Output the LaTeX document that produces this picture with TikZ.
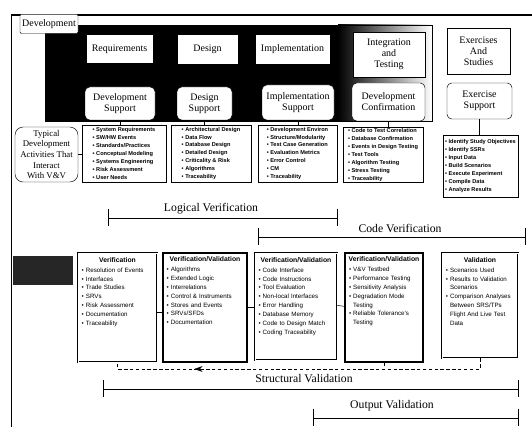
\documentclass[tikz,border=0pt]{standalone}
\usepackage{fontspec}
\setmainfont{Liberation Serif}
\setsansfont{Liberation Sans}
\usetikzlibrary{arrows.meta,decorations.markings}
\newcommand{\bracketline}[3]{\draw[line width=0.6pt] (#1,#3)--(#2,#3);
  \draw (#1,#3-9)--(#1,#3+8); \draw (#2,#3-9)--(#2,#3+8);}
\newcommand{\itm}{\textbullet\ }
\newcommand{\ttl}[1]{\makebox[\linewidth]{\fontsize{5.8}{8}\selectfont\textbf{#1}}\\[1pt]}
\tikzset{
  sz/.style 2 args={minimum width=#1*0.03cm, minimum height=#2*0.03cm},
  phase/.style={fill=white, draw=white, inner sep=1pt, align=center,
    font=\fontsize{8.5}{9.5}\selectfont},
  support/.style={phase, draw=black, rounded corners=4pt},
  listbox/.style={draw, align=left, inner sep=1pt,
    font=\sffamily\bfseries\fontsize{4.8}{6.8}\selectfont},
  vvbox/.style={draw, inner sep=0pt},
  vvtext/.style={align=left, inner sep=1.5pt, anchor=north,
    font=\sffamily\fontsize{5.3}{7.6}\selectfont},
  brlabel/.style={font=\fontsize{10}{12}\selectfont}
}
\begin{document}
\begin{tikzpicture}[x=0.03cm, y=-0.03cm]
\useasboundingbox (0,0) rectangle (532,427);
% frame
\draw[line width=0.6pt] (11,427)--(11,15);
\draw[line width=1.4pt] (11,15)--(532,15);
% development area
\fill[black] (45,25) rectangle (338,121);
\shade[left color=black, middle color=black!40, right color=white] (338,25) rectangle (432,121);
\draw (45,25) rectangle (432,121);
\node[draw, fill=white, rounded corners=1pt, sz={58}{19}, inner sep=1pt,
  font=\fontsize{8.5}{9.5}\selectfont] (dev) at (49,24) {Development};

% phases
\node[phase, sz={65}{27}] (req) at (119.5,49) {Requirements};
\node[phase, sz={59}{28}] (des) at (207.5,49) {Design};
\node[phase, sz={73}{28}] (imp) at (292.5,49) {Implementation};
\node[phase, draw=black, sz={72}{45}] (integ) at (389,54.5) {Integration\\and\\Testing};
\node[phase, draw=black, sz={63}{46}] (exer) at (478.5,51) {Exercises\\And\\Studies};

% support
\node[support, sz={70}{33}] (devsup) at (120,103.5) {Development\\Support};
\node[support, sz={55}{33}] (dessup) at (204.5,103.5) {Design\\Support};
\node[support, sz={72}{35}] (impsup) at (298,102.5) {Implementation\\Support};
\node[support, sz={73}{38}] (devconf) at (388.5,102) {Development\\Confirmation};
\node[support, sz={65}{36}] (exsup) at (479.5,101) {Exercise\\Support};

% activity lists
\node[draw, rounded corners=7pt, align=center, sz={63}{55}, inner sep=1pt,
  font=\fontsize{7.5}{9}\selectfont] (typ) at (46.5,154.5)
  {Typical\\Development\\Activities That\\Interact\\With V\&V};
\node[listbox, sz={84}{57}] (lreq) at (124,153.5)
  {\itm System Requirements\\\itm SW/HW Events\\\itm Standards/Practices\\
   \itm Conceptual Modeling\\\itm Systems Engineering\\\itm Risk Assessment\\\itm User Needs};
\node[listbox, sz={80}{57}] (ldes) at (211,153.5)
  {\itm Architectural Design\\\itm Data Flow\\\itm Database Design\\
   \itm Detailed Design\\\itm Criticality \& Risk\\\itm Algorithms\\\itm Traceability};
\node[listbox, sz={79}{57}] (limp) at (297.5,153.5)
  {\itm Development Environ\\\itm Structure/Modularity\\\itm Test Case Generation\\
   \itm Evaluation Metrics\\\itm Error Control\\\itm CM\\\itm Traceability};
\node[listbox, sz={80}{54}] (lint) at (383,155)
  {\itm Code to Test Correlation\\\itm Database Confirmation\\\itm Events in Design Testing\\
   \itm Test Tools\\\itm Algorithm Testing\\\itm Stress Testing\\\itm Traceability};
\node[listbox, sz={75}{62}] (lexe) at (480.5,166)
  {\itm Identify Study Objectives\\\itm Identify SSRs\\\itm Input Data\\
   \itm Build Scenarios\\\itm Execute Experiment\\\itm Compile Data\\\itm Analyze Results};

\draw (typ.east) -- (typ.east -| lreq.west);
\draw (devsup.south) -- (devsup.south |- lreq.north);
\draw (dessup.south) -- (dessup.south |- ldes.north);
\draw (impsup.south) -- (impsup.south |- limp.north);
\draw (devconf.south) -- (devconf.south |- lint.north);
\draw (exsup.south) -- (exsup.south |- lexe.north);

% verification brackets
\bracketline{108}{337}{218}
\node[brlabel] (logv) at (211,209) {Logical Verification};
\bracketline{258}{525}{237}
\node[brlabel] (codev) at (400,228) {Code Verification};

% V&V boxes
\fill[black!85] (13,256) rectangle (73,285);
\node[vvbox, double, double distance=0.8pt, sz={79}{109}] (bver) at (117.5,307.5) {};
\node[vvbox, line width=1.6pt, sz={84}{109}] (bvv1) at (205,307.5) {};
\node[vvbox, double, double distance=0.8pt, sz={82}{107}] (bvv2) at (296,306.5) {};
\node[vvbox, line width=1.6pt, sz={78}{109}] (bvv3) at (384,307.5) {};
\node[vvbox, double, double distance=0.8pt, sz={76}{105}] (bval) at (480,305.5) {};

\node[vvtext, text width=2.15cm] at ([yshift=-2pt]bver.north)
  {\ttl{Verification}\itm Resolution of Events\\\itm Interfaces\\\itm Trade Studies\\
   \itm SRVs\\\itm Risk Assessment\\\itm Documentation\\\itm Traceability};
\node[vvtext, text width=2.3cm] at ([yshift=-2pt]bvv1.north)
  {\ttl{Verification/Validation}\itm Algorithms\\\itm Extended Logic\\\itm Interrelations\\
   \itm Control \& Instruments\\\itm Stores and Events\\\itm SRVs/SFDs\\\itm Documentation};
\node[vvtext, text width=2.25cm] at ([yshift=-2pt]bvv2.north)
  {\ttl{Verification/Validation}\itm Code Interface\\\itm Code Instructions\\\itm Tool Evaluation\\
   \itm Non-local Interfaces\\\itm Error Handling\\\itm Database Memory\\
   \itm Code to Design Match\\\itm Coding Traceability};
\node[vvtext, text width=2.1cm] at ([yshift=-2pt]bvv3.north)
  {\ttl{Verification/Validation}\itm V\&V Testbed\\\itm Performance Testing\\
   \itm Sensitivity Analysis\\\itm Degradation Mode\\\phantom{\itm}Testing\\
   \itm Reliable Tolerance's\\\phantom{\itm}Testing};
\node[vvtext, text width=2.05cm] at ([yshift=-2pt]bval.north)
  {\ttl{Validation}\itm Scenarios Used\\\itm Results to Validation\\\phantom{\itm}Scenarios\\
   \itm Comparison Analyses\\\phantom{\itm}Between SRS/TPs\\
   \phantom{\itm}Flight And Live Test\\\phantom{\itm}Data};

\draw ([yshift=-4pt]bver.east) -- ([yshift=-4pt]bvv1.west);
\draw (bvv1.east) -- (bvv1.east -| bvv2.west);
\draw ([yshift=1pt]bvv2.east) -- ([yshift=1pt]bvv3.west);

% feedback
\coordinate (fb) at (300,369);
\draw[densely dashed, postaction={decorate}, decoration={markings,
  mark=at position 0.78 with {\arrow{Stealth[length=7pt,width=5pt]}}}]
  (bval.south) -- (bval.south |- fb) -| (bver.south);
\draw[densely dashed] (bvv3.south) -- (bvv3.south |- fb);

% validation brackets
\bracketline{103}{518}{389}
\node[brlabel] (strv) at (304,379) {Structural Validation};
\bracketline{313}{518}{418}
\node[brlabel] (outv) at (392,406) {Output Validation};
\end{tikzpicture}
\end{document}
